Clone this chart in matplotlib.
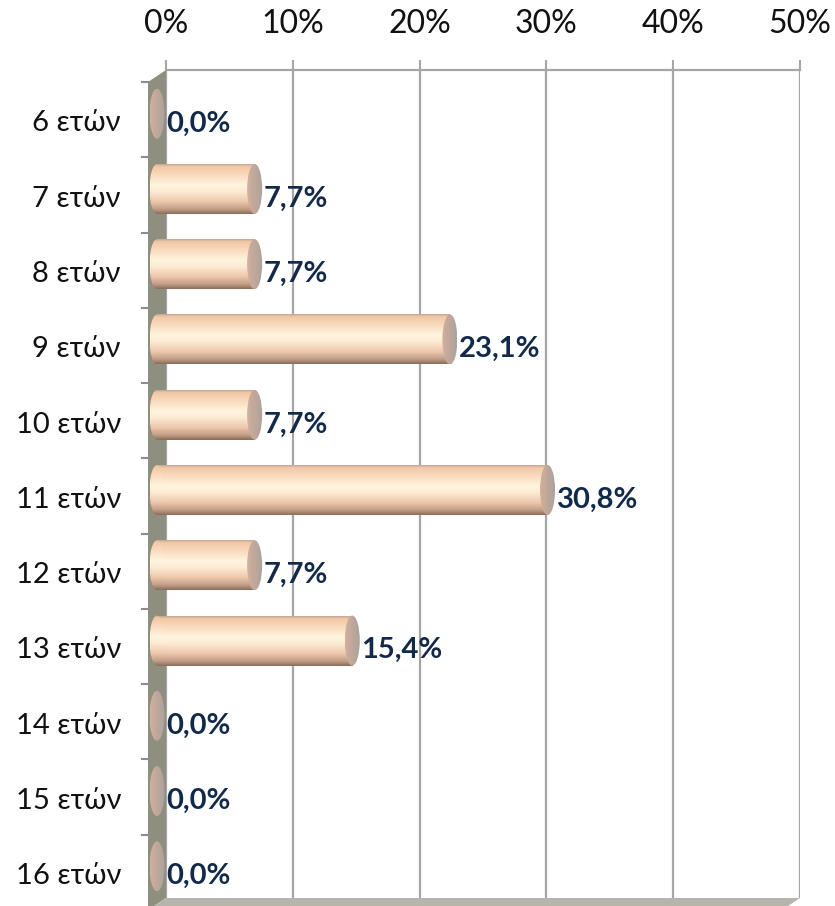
import numpy as np
import matplotlib
matplotlib.use("Agg")
import matplotlib.pyplot as plt
from matplotlib.patches import Rectangle, Ellipse, Polygon
from matplotlib.colors import to_rgb

plt.rcParams['font.family'] = ['Lato', 'DejaVu Sans']

categories = ["6 ετών", "7 ετών", "8 ετών", "9 ετών", "10 ετών", "11 ετών",
              "12 ετών", "13 ετών", "14 ετών", "15 ετών", "16 ετών"]
values = [0.0, 7.7, 7.7, 23.1, 7.7, 30.8, 7.7, 15.4, 0.0, 0.0, 0.0]
value_labels = ["0,0%", "7,7%", "7,7%", "23,1%", "7,7%", "30,8%", "7,7%",
                "15,4%", "0,0%", "0,0%", "0,0%"]
xticks = [0, 10, 20, 30, 40, 50]
xtick_labels = ["0%", "10%", "20%", "30%", "40%", "50%"]

W, H = 835, 906
fig = plt.figure(figsize=(W / 100, H / 100), dpi=100)
ax_l, ax_t, ax_r, ax_b = 166, 70, 800, 898
ax = fig.add_axes([ax_l / W, (H - ax_b) / H, (ax_r - ax_l) / W, (ax_b - ax_t) / H])

XMAX = 50
n = len(categories)
px_x = XMAX / (ax_r - ax_l)
px_y = n / (ax_b - ax_t)
DX = 18 * px_x      # depth offset (data units)
DY = 12 * px_y

grid_c = '#A6A6A6'
ax.set_xlim(0, XMAX)
ax.set_ylim(n - 0.5, -0.5)
ax.xaxis.tick_top()
ax.set_xticks(xticks)
ax.set_xticklabels(xtick_labels, fontsize=23, color='#111111')
ax.tick_params(axis='x', length=7.5, width=1.5, color=grid_c, pad=15)
ax.set_yticks([])
ax.grid(axis='x', color=grid_c, lw=1.6, zorder=0)
for s in ['left', 'right', 'bottom']:
    ax.spines[s].set_visible(False)
ax.spines['top'].set_color(grid_c)
ax.spines['top'].set_linewidth(1.6)
ax.set_axisbelow(True)

# left wall and floor
wall = Polygon([(0, -0.5), (0, n - 0.5), (-DX, n - 0.5 + DY), (-DX, -0.5 + DY)],
               closed=True, facecolor='#8F8F80', edgecolor='none', zorder=2, clip_on=False)
ax.add_patch(wall)
floor = Polygon([(0, n - 0.5), (XMAX, n - 0.5), (XMAX - DX, n - 0.5 + DY), (-DX, n - 0.5 + DY)],
                closed=True, facecolor='#B6B4AC', edgecolor='none', zorder=2, clip_on=False)
ax.add_patch(floor)

# wall tick marks (front plane)
for k in range(n):
    yb = k - 0.5 + DY
    ax.plot([-DX - 6 * px_x, -DX], [yb, yb], color='#8C8C8C', lw=1.5, clip_on=False, zorder=3)


def gradient(stops, N=256):
    pos = np.array([s[0] for s in stops])
    cols = np.array([to_rgb(s[1]) for s in stops])
    t = np.linspace(0, 1, N)
    return np.stack([np.interp(t, pos, cols[:, i]) for i in range(3)], axis=-1)


bar_stops = [(0, '#BFA596'), (0.05, '#F2C7A5'), (0.2, '#F9D8BB'), (0.42, '#FFF4DE'),
             (0.55, '#FDEBD4'), (0.75, '#EDC8AD'), (0.9, '#C39E88'), (1, '#8A6C5B')]
vgrad = gradient(bar_stops)[:, None, :]
cap_grad = gradient([(0, '#D2B09E'), (0.5, '#BFA79A'), (1, '#A9A39E')])[None, :, :]

bh = 50 * px_y
cw = 15 * px_x


def clipped_image(arr, extent, clip_patch, z):
    im = ax.imshow(arr, extent=extent, aspect='auto', origin='upper', zorder=z,
                   interpolation='bilinear')
    im.set_clip_box(fig.bbox)
    im.set_clip_path(clip_patch)
    return im


for k, v in enumerate(values):
    yc = k + DY / 2
    x0 = -DX / 2
    x1 = v - DX / 2
    ext = [x0 - cw / 2, x1, yc + bh / 2, yc - bh / 2]
    if v > 0:
        clipped_image(vgrad, ext, Rectangle((x0, yc - bh / 2), x1 - x0, bh,
                                            transform=ax.transData), 4)
        clipped_image(vgrad, ext, Ellipse((x0, yc), cw, bh, transform=ax.transData), 4)
    clipped_image(cap_grad, [x1 - cw / 2, x1 + cw / 2, yc + bh / 2, yc - bh / 2],
                  Ellipse((x1, yc), cw, bh, transform=ax.transData), 5)
    ax.text(v, k + 0.21, value_labels[k], ha='left', va='center', fontsize=21,
            fontweight='bold', color='#13294A', zorder=6, clip_on=False)
    ax.text(-DX - 27 * px_x, k + 0.21, categories[k], ha='right', va='center',
            fontsize=21, color='#111111', clip_on=False)

ax.set_xlim(0, XMAX)
ax.set_ylim(n - 0.5, -0.5)
fig.savefig('out.png', dpi=100)
